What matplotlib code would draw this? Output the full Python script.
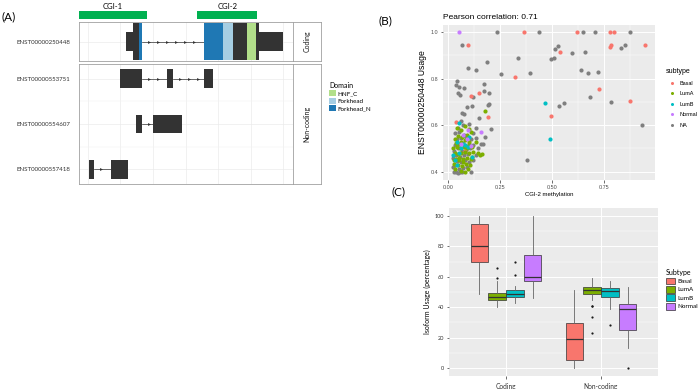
import matplotlib.pyplot as plt
import numpy as np
from matplotlib.patches import Patch
from matplotlib.lines import Line2D

W, H = 699, 389

# ---------------- panel A: gene model (positions in kb) ----------------
cgi_names = ["CGI-1", "CGI-2"]
cgi_start = [-1.38, 16.77]
cgi_end = [9.08, 26.0]

coding_name = "ENST00000250448"
coding_utr_start = [5.85, 26.31]
coding_utr_end = [6.92, 30.0]
coding_cds_start = [6.92, 17.85]
coding_cds_end = [8.31, 26.31]

domain_names = ["Forkhead_N", "Forkhead_N", "Forkhead", "HNF_C"]
domain_start = [7.85, 17.85, 20.77, 24.46]
domain_end = [8.31, 20.77, 22.31, 25.85]
domain_order = ["HNF_C", "Forkhead", "Forkhead_N"]
domain_colors = {"HNF_C": "#B2DF8A", "Forkhead": "#A6CEE3", "Forkhead_N": "#1F78B4"}

nc_names = ["ENST00000553751", "ENST00000554607", "ENST00000557418"]
nc_exon_start = [[4.92, 12.15, 17.85], [7.38, 10.0], [0.15, 3.54]]
nc_exon_end = [[8.31, 13.08, 19.23], [8.31, 14.46], [0.92, 6.15]]

# ---------------- panel B: scatter ----------------
basal_x = [0.096, 0.362, 0.619, 0.779, 0.795, 0.535, 0.78, 0.779, 0.947, 0.32, 0.146,
           0.106, 0.192, 0.037, 0.494, 0.726, 0.872, 0.08]
basal_y = [0.945, 1.0, 1.0, 1.0, 1.0, 0.915, 0.944, 0.937, 0.944, 0.807, 0.738,
           0.724, 0.634, 0.615, 0.641, 0.754, 0.706, 0.49]
luma_x = [0.03, 0.06, 0.08, 0.095, 0.025, 0.045, 0.065, 0.085, 0.105, 0.035, 0.05, 0.07,
          0.09, 0.11, 0.03, 0.045, 0.06, 0.08, 0.1, 0.12, 0.162, 0.15, 0.02, 0.04, 0.055,
          0.075, 0.095, 0.115, 0.035, 0.06, 0.08, 0.1, 0.045, 0.065, 0.09, 0.107, 0.042,
          0.06, 0.08, 0.1, 0.177, 0.05, 0.04, 0.07, 0.09, 0.03, 0.025, 0.115, 0.13, 0.14]
luma_y = [0.41, 0.405, 0.40, 0.41, 0.435, 0.43, 0.425, 0.435, 0.43, 0.455, 0.45, 0.455,
          0.46, 0.455, 0.48, 0.475, 0.48, 0.485, 0.48, 0.485, 0.477, 0.47, 0.5, 0.505, 0.5,
          0.505, 0.51, 0.505, 0.525, 0.53, 0.535, 0.53, 0.555, 0.55, 0.56, 0.569, 0.59,
          0.58, 0.595, 0.585, 0.661, 0.46, 0.52, 0.44, 0.5, 0.54, 0.45, 0.465, 0.53, 0.48]
lumb_x = [0.052, 0.463, 0.486, 0.04, 0.06, 0.08, 0.095, 0.03, 0.04, 0.115, 0.02, 0.07, 0.1, 0.05]
lumb_y = [0.608, 0.697, 0.54, 0.53, 0.5, 0.515, 0.505, 0.45, 0.43, 0.465, 0.47, 0.52, 0.55, 0.48]
normal_x = [0.05, 0.094, 0.155, 0.09, 0.06, 0.11, 0.07]
normal_y = [1.0, 0.578, 0.572, 0.54, 0.52, 0.51, 0.56]
na_x = [0.231, 0.436, 0.646, 0.707, 0.872, 0.067, 0.514, 0.526, 0.595, 0.659, 0.494, 0.506,
        0.83, 0.851, 0.638, 0.672, 0.718, 0.681, 0.784, 0.554, 0.534, 0.378, 0.931, 0.186,
        0.332, 0.093, 0.131, 0.253, 0.391, 0.042, 0.035, 0.05, 0.077, 0.17, 0.172, 0.196,
        0.12, 0.045, 0.054, 0.194,
        0.025, 0.035, 0.045, 0.055, 0.065, 0.11, 0.02, 0.03, 0.05, 0.07, 0.09, 0.04, 0.06,
        0.08, 0.1, 0.12, 0.02, 0.035, 0.055, 0.075, 0.095, 0.13, 0.025, 0.045, 0.065, 0.085,
        0.105, 0.14, 0.03, 0.05, 0.07, 0.1, 0.12, 0.155, 0.165, 0.04, 0.06, 0.085, 0.11,
        0.13, 0.03, 0.05, 0.075, 0.12, 0.045, 0.07, 0.134, 0.203, 0.178, 0.067, 0.077,
        0.147, 0.087, 0.113, 0.192, 0.06, 0.1]
na_y = [1.0, 1.0, 1.0, 1.0, 1.0, 0.945, 0.929, 0.938, 0.91, 0.915, 0.885, 0.887,
        0.93, 0.946, 0.838, 0.825, 0.83, 0.72, 0.70, 0.697, 0.683, 0.449, 0.599, 0.872,
        0.887, 0.847, 0.838, 0.82, 0.825, 0.789, 0.771, 0.765, 0.759, 0.776, 0.748, 0.738,
        0.72, 0.737, 0.728, 0.689,
        0.40, 0.397, 0.395, 0.398, 0.40, 0.397, 0.42, 0.43, 0.41, 0.415, 0.42, 0.445, 0.44,
        0.45, 0.44, 0.45, 0.46, 0.47, 0.465, 0.47, 0.475, 0.47, 0.49, 0.5, 0.49, 0.495,
        0.5, 0.5, 0.515, 0.52, 0.525, 0.52, 0.515, 0.52, 0.52, 0.54, 0.545, 0.55, 0.54,
        0.545, 0.565, 0.57, 0.56, 0.565, 0.59, 0.6, 0.589, 0.582, 0.548, 0.652, 0.646,
        0.633, 0.68, 0.683, 0.685, 0.62, 0.605]

# ---------------- panel C: boxplot summaries ----------------
groups = ["Coding", "Non-coding"]
subtypes = ["Basal", "LumA", "LumB", "Normal"]
subtype_colors = ["#F8766D", "#7CAE00", "#00BFC4", "#C77CFF"]
box_q1 = [[70, 44.5, 46.5, 57], [5.5, 49, 47, 25]]
box_med = [[80.5, 47, 48.5, 60], [19, 51.5, 50.5, 38.5]]
box_q3 = [[94.5, 49.5, 51, 74.5], [29.5, 53.5, 52.5, 42]]
box_lo = [[49, 40, 43, 46], [0, 45, 39, 13]]
box_hi = [[100, 57, 54, 100], [51, 59.5, 57, 53.5]]
box_out = [[[], [59, 66], [61, 69.5], []], [[], [41, 40.5, 33.5, 23], [28.5], [0]]]


def px_rect(x0, y0, x1, y1):
    return [x0 / W, 1 - y1 / H, (x1 - x0) / W, (y1 - y0) / H]


def blocks(ax, y, starts, ends, height, color, z=2):
    ax.barh([y] * len(starts), np.subtract(ends, starts), left=starts,
            height=height, color=color, linewidth=0, zorder=z)


def introns(ax, y, starts, ends):
    order = np.argsort(starts)
    s = np.array(starts)[order]
    e = np.array(ends)[order]
    cur = e[0]
    for a, b in zip(s[1:], e[1:]):
        if a > cur + 0.01:
            ax.plot([cur, a], [y, y], color="#333333", lw=0.5, zorder=1)
            marks = np.arange(cur + 1.1, a - 0.2, 1.38)
            ax.plot(marks, [y] * len(marks), ls="none", marker=">", ms=2.1,
                    color="#333333", mew=0, zorder=1)
        cur = max(cur, b)


plt.rcParams["font.family"] = ["Lato", "DejaVu Sans"]
fig = plt.figure(figsize=(W / 100, H / 100), dpi=100)

# ---------- (A) ----------
xlim_a = (-1.34, 31.49)
ax_cgi = fig.add_axes(px_rect(79, 0, 293, 19))
ax_cgi.barh([0, 0], np.subtract(cgi_end, cgi_start), left=cgi_start, height=1,
            color="#00B050", linewidth=0)
for n, a, b in zip(cgi_names, cgi_start, cgi_end):
    ax_cgi.text((a + b) / 2, 0.62, n, ha="center", va="bottom", fontsize=5.5)
ax_cgi.set_xlim(xlim_a)
ax_cgi.set_ylim(-0.5, 2.0)
ax_cgi.axis("off")

ax_top = fig.add_axes(px_rect(79, 22, 293, 61))
ax_bot = fig.add_axes(px_rect(79, 64, 293, 184))
for ax in (ax_top, ax_bot):
    ax.set_xlim(xlim_a)
    ax.set_xticks(np.arange(0, 31, 5))
    ax.tick_params(length=0, labelbottom=False, labelsize=4.4, pad=6, labelcolor="#333333")
    ax.grid(color="#EBEBEB", lw=0.5, zorder=0)
    ax.set_axisbelow(True)
    for sp in ax.spines.values():
        sp.set_color("#A0A0A0")
        sp.set_linewidth(0.6)

blocks(ax_top, 0, coding_utr_start, coding_utr_end, 0.4, "#333333")
blocks(ax_top, 0, coding_cds_start, coding_cds_end, 0.8, "#333333")
introns(ax_top, 0, coding_utr_start + coding_cds_start, coding_utr_end + coding_cds_end)
for n, a, b in zip(domain_names, domain_start, domain_end):
    blocks(ax_top, 0, [a], [b], 0.8, domain_colors[n], z=3)
ax_top.set_ylim(-0.43, 0.43)
ax_top.set_yticks([0])
ax_top.set_yticklabels([coding_name])

for i, (st, en) in enumerate(zip(nc_exon_start, nc_exon_end)):
    blocks(ax_bot, i, st, en, 0.4, "#333333")
    introns(ax_bot, i, st, en)
ax_bot.set_ylim(2.32, -0.32)
ax_bot.set_yticks(range(len(nc_names)))
ax_bot.set_yticklabels(nc_names)
ax_bot.set_yticks([0.5, 1.5], minor=True)
ax_bot.tick_params(which="minor", length=0)
ax_bot.grid(which="minor", axis="y", color="#F2F2F2", lw=0.35)

for rect, lab in (((293, 22, 321, 61), "Coding"), ((293, 64, 321, 184), "Non-coding")):
    st_ax = fig.add_axes(px_rect(*rect))
    st_ax.set_xticks([])
    st_ax.set_yticks([])
    for sp in st_ax.spines.values():
        sp.set_color("#A0A0A0")
        sp.set_linewidth(0.6)
    st_ax.text(0.5, 0.5, lab, rotation=90, ha="center", va="center", fontsize=5,
               transform=st_ax.transAxes, color="#1A1A1A")

dom_handles = [Patch(facecolor=domain_colors[d], edgecolor="none") for d in domain_order]
fig.legend(dom_handles, domain_order, title="Domain", loc="upper left",
           bbox_to_anchor=(329 / W, 1 - 82 / H), frameon=False, fontsize=4.5,
           title_fontsize=5, handlelength=1.1, handleheight=1.1,
           labelspacing=0.2, handletextpad=0.3, borderpad=0, borderaxespad=0,
           alignment="left")

fig.text(1 / W, 1 - 17 / H, "(A)", fontsize=8.5, va="center", ha="left")

# ---------- (B) ----------
b_font = ["Liberation Sans", "DejaVu Sans"]
axB = fig.add_axes(px_rect(443, 25, 655, 180))
axB.set_facecolor("#EBEBEB")
axB.scatter(na_x, na_y, s=9, color="#7F7F7F", linewidths=0, zorder=2)
series_b = [(basal_x, basal_y), (luma_x, luma_y), (lumb_x, lumb_y), (normal_x, normal_y)]
for (xs, ys), col in zip(series_b, subtype_colors):
    axB.scatter(xs, ys, s=9, color=col, linewidths=0, zorder=2)
axB.margins(x=0.05, y=0.05)
axB.set_xticks([0, 0.25, 0.5, 0.75])
axB.set_xticklabels(["0.00", "0.25", "0.50", "0.75"])
axB.set_yticks([0.4, 0.6, 0.8, 1.0])
axB.set_yticklabels(["0.4", "0.6", "0.8", "1.0"])
axB.set_xticks([0.125, 0.375, 0.625, 0.875], minor=True)
axB.set_yticks([0.5, 0.7, 0.9], minor=True)
axB.grid(which="major", color="white", lw=0.7)
axB.grid(which="minor", color="white", lw=0.35)
axB.set_axisbelow(True)
for sp in axB.spines.values():
    sp.set_visible(False)
axB.tick_params(which="major", length=1.8, width=0.5, color="#333333", pad=1.5,
                labelsize=3.9, labelcolor="#4D4D4D")
axB.tick_params(which="minor", length=0)
for lab in axB.get_xticklabels() + axB.get_yticklabels():
    lab.set_family(b_font)
axB.set_xlabel("CGI-2 methylation", fontsize=4.3, family=b_font, labelpad=2)
axB.set_ylabel("ENST00000250448 Usage", fontsize=6.2, family=b_font, labelpad=3)
axB.set_title("Pearson correlation: 0.71", loc="left", fontsize=6, family=b_font, pad=4)

b_handles = [Line2D([], [], ls="none", marker="o", ms=2.2, mew=0, color=c)
             for c in subtype_colors + ["#7F7F7F"]]
fig.legend(b_handles, subtypes + ["NA"], title="subtype", loc="upper left",
           bbox_to_anchor=(666 / W, 1 - 68 / H), frameon=False,
           prop={"family": b_font, "size": 4},
           title_fontproperties={"family": b_font, "size": 5},
           handlelength=2, labelspacing=1.0, handletextpad=0.5, borderpad=0,
           borderaxespad=0, alignment="left")
fig.text(378 / W, 1 - 21 / H, "(B)", fontsize=8.5, va="center", ha="left")

# ---------- (C) ----------
axC = fig.add_axes(px_rect(449, 208, 658, 376))
axC.set_facecolor("#EBEBEB")
bw = 0.75 / len(subtypes)
for gi in range(len(groups)):
    for si in range(len(subtypes)):
        pos = gi + 1 + (si - 1.5) * bw
        stats = [{"q1": box_q1[gi][si], "med": box_med[gi][si], "q3": box_q3[gi][si],
                  "whislo": box_lo[gi][si], "whishi": box_hi[gi][si],
                  "fliers": box_out[gi][si]}]
        axC.bxp(stats, positions=[pos], widths=bw * 0.98, patch_artist=True,
                showcaps=False, manage_ticks=False,
                boxprops={"facecolor": subtype_colors[si], "edgecolor": "#333333",
                          "linewidth": 0.5},
                medianprops={"color": "#333333", "linewidth": 0.9},
                whiskerprops={"color": "#666666", "linewidth": 0.6},
                flierprops={"marker": "o", "markersize": 1.6, "markerfacecolor": "#1A1A1A",
                            "markeredgewidth": 0})
axC.set_xlim(0.4, 2.6)
axC.set_ylim(-5.25, 105.25)
axC.set_xticks([1, 2])
axC.set_xticklabels(groups)
axC.set_yticks(range(0, 101, 20))
axC.set_yticks(range(10, 100, 20), minor=True)
axC.grid(which="major", color="white", lw=0.7)
axC.grid(which="minor", axis="y", color="white", lw=0.35)
axC.set_axisbelow(True)
for sp in axC.spines.values():
    sp.set_visible(False)
axC.tick_params(which="major", length=1.8, width=0.5, color="#333333", pad=1.5,
                labelcolor="#333333")
axC.tick_params(axis="x", labelsize=4.8, pad=3)
axC.tick_params(axis="y", labelsize=4)
axC.tick_params(which="minor", length=0)
axC.set_ylabel("Isoform Usage (percentage)", fontsize=5, labelpad=3)

c_handles = [Patch(facecolor=c, edgecolor="#333333", linewidth=0.5) for c in subtype_colors]
fig.legend(c_handles, subtypes, title="Subtype", loc="upper left",
           bbox_to_anchor=(666 / W, 1 - 269 / H), frameon=False, fontsize=4.5,
           title_fontsize=5, handlelength=1.45, handleheight=1.3, labelspacing=0.25,
           handletextpad=0.4, borderpad=0, borderaxespad=0, alignment="left")
fig.text(392 / W, 1 - 192 / H, "(C)", fontsize=8.5, va="center", ha="left")

fig.savefig("out.png", dpi=100)
